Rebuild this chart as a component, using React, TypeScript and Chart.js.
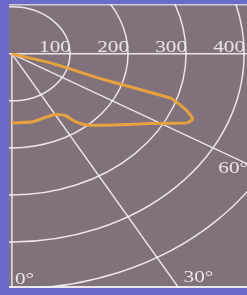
import { useEffect, useRef } from "react";
import { Chart, registerables } from "chart.js";

Chart.register(...registerables);

// Grid rings (radius values) and their labels
const ringValues = [100, 200, 300, 400, 500];
const ringLabels = ["100", "200", "300", "400"];
// Spokes (degrees measured from the downward 0° axis toward the right)
const spokeAngles = [0, 30, 60, 90];
const spokeLabels = ["0°", "30°", "60°"];
// Polar curve: angle (deg) and radius
const curveAngles = [75, 74, 71, 71, 71, 70, 68, 66, 64, 61, 58, 51, 45, 40, 37, 35, 30, 24, 14, 5, 0];
const curveRadii = [0, 68, 160, 233, 288, 303, 326, 341, 335, 305, 280, 240, 215, 197, 179, 160, 149, 147, 149, 147, 147];

const X_MIN = -5;
const X_MAX = 405;
const Y_MIN = -498;
const Y_MAX = 106;

const rad = (d: number) => (d * Math.PI) / 180;
const toXY = (angle: number, r: number) => ({
  x: r * Math.sin(rad(angle)),
  y: -r * Math.cos(rad(angle)),
});

const TEXT_STRETCH = 1.25;
const FONT = '17px "Liberation Serif", "Times New Roman", serif';

function drawStretched(ctx: CanvasRenderingContext2D, t: string, x: number, y: number, align: CanvasTextAlign) {
  ctx.save();
  ctx.translate(x, y);
  ctx.scale(TEXT_STRETCH, 1);
  ctx.textAlign = align;
  ctx.fillText(t, 0, 0);
  ctx.restore();
}

const polarPlugin = {
  id: "polarGrid",
  beforeDraw(chart: any) {
    const { ctx, chartArea: a, width, height } = chart;
    ctx.save();
    ctx.fillStyle = "#6a6acb";
    ctx.fillRect(0, 0, width, height);
    ctx.fillStyle = "#80717b";
    ctx.fillRect(a.left, a.top, a.right - a.left, a.bottom - a.top);
    ctx.restore();
  },
  beforeDatasetsDraw(chart: any) {
    const { ctx, chartArea: a, scales } = chart;
    const xs = scales.x;
    const ys = scales.y;
    const cx = xs.getPixelForValue(0);
    const cy = ys.getPixelForValue(0);
    ctx.save();
    ctx.beginPath();
    ctx.rect(a.left, a.top, a.right - a.left, a.bottom - a.top);
    ctx.clip();

    // frame lines
    ctx.strokeStyle = "rgba(215,208,222,0.95)";
    ctx.lineWidth = 1.5;
    ctx.beginPath();
    ctx.moveTo(a.left, a.top + 0.75);
    ctx.lineTo(a.right, a.top + 0.75);
    ctx.stroke();
    ctx.strokeStyle = "rgba(240,236,244,0.95)";
    ctx.lineWidth = 2;
    ctx.beginPath();
    ctx.moveTo(a.left, a.bottom - 1);
    ctx.lineTo(a.right, a.bottom - 1);
    ctx.stroke();

    // rings
    ctx.strokeStyle = "rgba(246,242,246,0.9)";
    ctx.lineWidth = 1.5;
    ringValues.forEach((r) => {
      const rx = xs.getPixelForValue(r) - cx;
      const ry = ys.getPixelForValue(-r) - cy;
      ctx.beginPath();
      ctx.ellipse(cx, cy, rx, ry, 0, 0, Math.PI * 2);
      ctx.stroke();
    });

    // spokes
    spokeAngles.forEach((ang) => {
      const p = toXY(ang, 2000);
      ctx.beginPath();
      if (ang === 90) {
        ctx.moveTo(a.left, cy);
      } else {
        ctx.moveTo(cx, cy);
      }
      ctx.lineTo(xs.getPixelForValue(p.x), ys.getPixelForValue(p.y));
      ctx.stroke();
    });

    // labels
    ctx.fillStyle = "#ebe4ea";
    ctx.textBaseline = "alphabetic";
    ctx.font = FONT;
    ringLabels.forEach((t, i) => {
      const x = xs.getPixelForValue(ringValues[i]);
      drawStretched(ctx, t, x + 1, cy - 2, "right");
    });

    // 0°
    drawStretched(ctx, spokeLabels[0], cx + 3, a.bottom - 4, "left");
    // 30°
    {
      const p = toXY(spokeAngles[1], 1000);
      const px = xs.getPixelForValue(p.x) - cx;
      const py = ys.getPixelForValue(p.y) - cy;
      const yb = a.bottom - 6;
      const xAt = cx + ((yb - cy) * px) / py;
      drawStretched(ctx, spokeLabels[1], xAt + 9, yb, "left");
    }
    // 60°
    {
      const p = toXY(spokeAngles[2], 1000);
      const px = xs.getPixelForValue(p.x) - cx;
      const py = ys.getPixelForValue(p.y) - cy;
      const yAt = cy + ((a.right - cx) * py) / px;
      drawStretched(ctx, spokeLabels[2], a.right + 1, yAt + 9, "right");
    }
    ctx.restore();
  },
};

export default function App() {
  const ref = useRef<HTMLCanvasElement | null>(null);
  useEffect(() => {
    if (!ref.current) return;
    const points = curveAngles.map((ang, i) => toXY(ang, curveRadii[i]));
    const chart = new Chart(ref.current, {
      type: "scatter",
      data: {
        datasets: [
          {
            data: points,
            showLine: true,
            borderColor: "#e6a23e",
            borderWidth: 3,
            pointRadius: 0,
            tension: 0.15,
            clip: 0 as any,
          },
        ],
      },
      options: {
        animation: false,
        responsive: false,
        maintainAspectRatio: false,
        layout: { padding: { left: 9, top: 4, right: 0, bottom: 7 } },
        scales: {
          x: { type: "linear", min: X_MIN, max: X_MAX, display: false },
          y: { type: "linear", min: Y_MIN, max: Y_MAX, display: false },
        },
        plugins: {
          legend: { display: false },
          tooltip: { enabled: false },
        },
      },
      plugins: [polarPlugin],
    });
    return () => chart.destroy();
  }, []);
  return (
    <div style={{ position: "fixed", left: 0, top: 0, width: 247, height: 295 }}>
      <canvas ref={ref} width={247} height={295} style={{ display: "block" }} />
    </div>
  );
}
